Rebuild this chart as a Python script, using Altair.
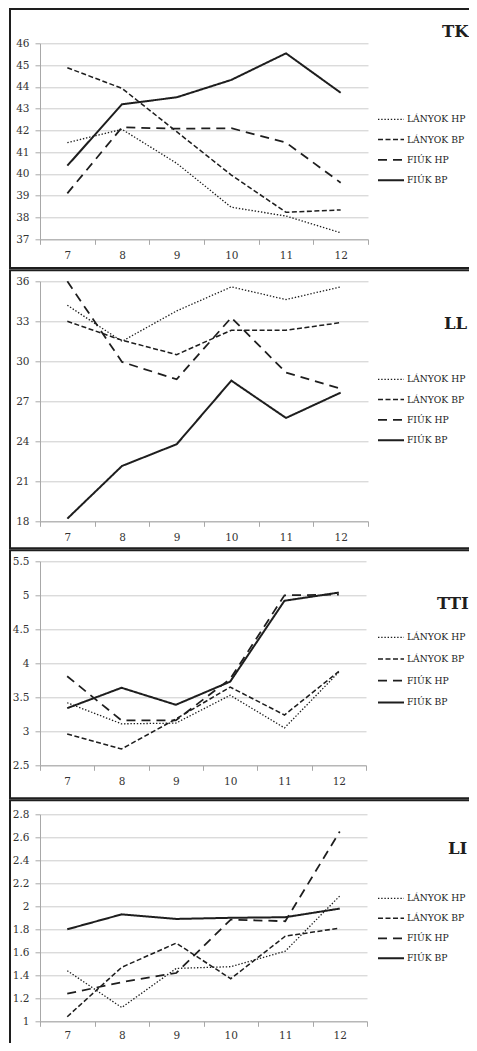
import altair as alt
import pandas as pd

# ---------------- data ----------------
grades = ["7", "8", "9", "10", "11", "12"]
series = ["LÁNYOK HP", "LÁNYOK BP", "FIÚK HP", "FIÚK BP"]

tk_lanyok_hp = [41.44, 42.05, 40.49, 38.47, 38.07, 37.30]
tk_lanyok_bp = [44.88, 43.93, 41.94, 39.95, 38.24, 38.35]
tk_fiuk_hp = [39.11, 42.14, 42.08, 42.10, 41.44, 39.60]
tk_fiuk_bp = [40.38, 43.20, 43.52, 44.32, 45.54, 43.73]
tk_ticks = [37, 38, 39, 40, 41, 42, 43, 44, 45, 46]

ll_lanyok_hp = [34.2, 31.5, 33.78, 35.58, 34.63, 35.58]
ll_lanyok_bp = [33.0, 31.58, 30.5, 32.33, 32.33, 32.9]
ll_fiuk_hp = [36.0, 29.95, 28.65, 33.28, 29.15, 27.95]
ll_fiuk_bp = [18.2, 22.15, 23.78, 28.55, 25.75, 27.65]
ll_ticks = [18, 21, 24, 27, 30, 33, 36]

tti_lanyok_hp = [3.42, 3.11, 3.12, 3.53, 3.05, 3.87]
tti_lanyok_bp = [2.96, 2.74, 3.18, 3.65, 3.24, 3.88]
tti_fiuk_hp = [3.81, 3.16, 3.16, 3.77, 5.00, 5.01]
tti_fiuk_bp = [3.34, 3.64, 3.39, 3.73, 4.92, 5.04]
tti_ticks = [2.5, 3, 3.5, 4, 4.5, 5, 5.5]

li_lanyok_hp = [1.44, 1.12, 1.46, 1.475, 1.61, 2.09]
li_lanyok_bp = [1.04, 1.47, 1.68, 1.37, 1.74, 1.81]
li_fiuk_hp = [1.24, 1.34, 1.42, 1.885, 1.87, 2.65]
li_fiuk_bp = [1.80, 1.93, 1.89, 1.90, 1.905, 1.98]
li_ticks = [1, 1.2, 1.4, 1.6, 1.8, 2, 2.2, 2.4, 2.6, 2.8]

panel_titles = ["TK", "LL", "TTI", "LI"]

# ---------------- styles ----------------
FONT = "DejaVu Serif"
INK = "#1e1e1e"
DASHES = [[1.4, 1.8], [5, 2.5], [9, 6], [1, 0]]
WIDTHS = [1.3, 2.0, 2.0, 2.0]

layout = [
    # width, height, border top, border bottom, legendY, rowPadding, title x, title y, x-label pad
    dict(w=328, h=196, bt=-34.3, bb=224.7, ly=62, rp=0.3, tx=402, ty=-6.6, xp=6),
    dict(w=328, h=240, bt=-11, bb=267, ly=84, rp=0.3, tx=404, ty=48, xp=6),
    dict(w=326, h=204, bt=-11, bb=237, ly=62, rp=1.7, tx=397, ty=48, xp=6),
    dict(w=327, h=207, bt=-14, bb=241, ly=70, rp=0, tx=408, ty=39.7, xp=4),
]

panel_data = [
    (tk_lanyok_hp, tk_lanyok_bp, tk_fiuk_hp, tk_fiuk_bp, tk_ticks),
    (ll_lanyok_hp, ll_lanyok_bp, ll_fiuk_hp, ll_fiuk_bp, ll_ticks),
    (tti_lanyok_hp, tti_lanyok_bp, tti_fiuk_hp, tti_fiuk_bp, tti_ticks),
    (li_lanyok_hp, li_lanyok_bp, li_fiuk_hp, li_fiuk_bp, li_ticks),
]


def make_panel(title, data, lay):
    *vals, ticks = data
    rows = []
    for s, v in zip(series, vals):
        for i, (g, y) in enumerate(zip(grades, v)):
            rows.append({"grade": g, "idx": i, "value": y, "series": s})
    df = pd.DataFrame(rows)

    legend = alt.Legend(
        title=None, orient="none", legendX=337, legendY=lay["ly"],
        symbolType="stroke", symbolSize=676, symbolStrokeColor=INK,
        labelFont=FONT, labelFontSize=9.2, labelColor="#222", labelOffset=2,
        rowPadding=lay["rp"],
    )

    lines = alt.Chart(df).mark_line(color=INK, strokeCap="butt").encode(
        x=alt.X("grade:O", sort=grades, bandPosition=0.5,
                scale=alt.Scale(type="band", domain=grades, paddingInner=0, paddingOuter=0),
                axis=alt.Axis(title=None, tickBand="extent", grid=False, labelAngle=0,
                              labelPadding=lay["xp"])),
        y=alt.Y("value:Q",
                scale=alt.Scale(domain=[ticks[0], ticks[-1]], nice=False, zero=False),
                axis=alt.Axis(title=None, values=ticks, format="~g", grid=True,
                              labelPadding=6)),
        strokeDash=alt.StrokeDash("series:N", sort=series,
                                  scale=alt.Scale(domain=series, range=DASHES), legend=legend),
        strokeWidth=alt.StrokeWidth("series:N", sort=series,
                                    scale=alt.Scale(domain=series, range=WIDTHS), legend=legend),
        order=alt.Order("idx:Q"),
    )

    one = pd.DataFrame({"k": [0]})
    border = alt.Chart(one).mark_rect(fillOpacity=0, stroke=INK, strokeWidth=2).encode(
        x=alt.value(-30), x2=alt.value(445), y=alt.value(lay["bt"]), y2=alt.value(lay["bb"])
    )
    label = alt.Chart(one).mark_text(
        text=title, font=FONT, fontWeight="bold", fontSize=16.5, align="left",
        baseline="alphabetic", color=INK,
    ).encode(x=alt.value(lay["tx"]), y=alt.value(lay["ty"]))

    return alt.layer(border, lines, label).properties(width=lay["w"], height=lay["h"])


panels = [make_panel(t, d, l) for t, d, l in zip(panel_titles, panel_data, layout)]

chart = alt.vconcat(*panels, spacing=0).resolve_scale(
    strokeDash="independent", strokeWidth="independent"
).resolve_legend(
    strokeDash="independent", strokeWidth="independent"
).properties(
    autosize=alt.AutoSizeParams(type="none"),
    padding={"left": 32, "top": 35.3, "right": 429, "bottom": 999.7},
).configure_view(strokeWidth=0).configure_axis(
    labelFont=FONT, labelFontSize=10.5, labelColor="#333",
    domainColor="#a8a8a8", tickColor="#a8a8a8", gridColor="#cccccc",
    tickSize=5, domainWidth=1, tickWidth=1, gridWidth=1,
)

chart.save("out.html", embed_options={"renderer": "svg", "actions": False})
